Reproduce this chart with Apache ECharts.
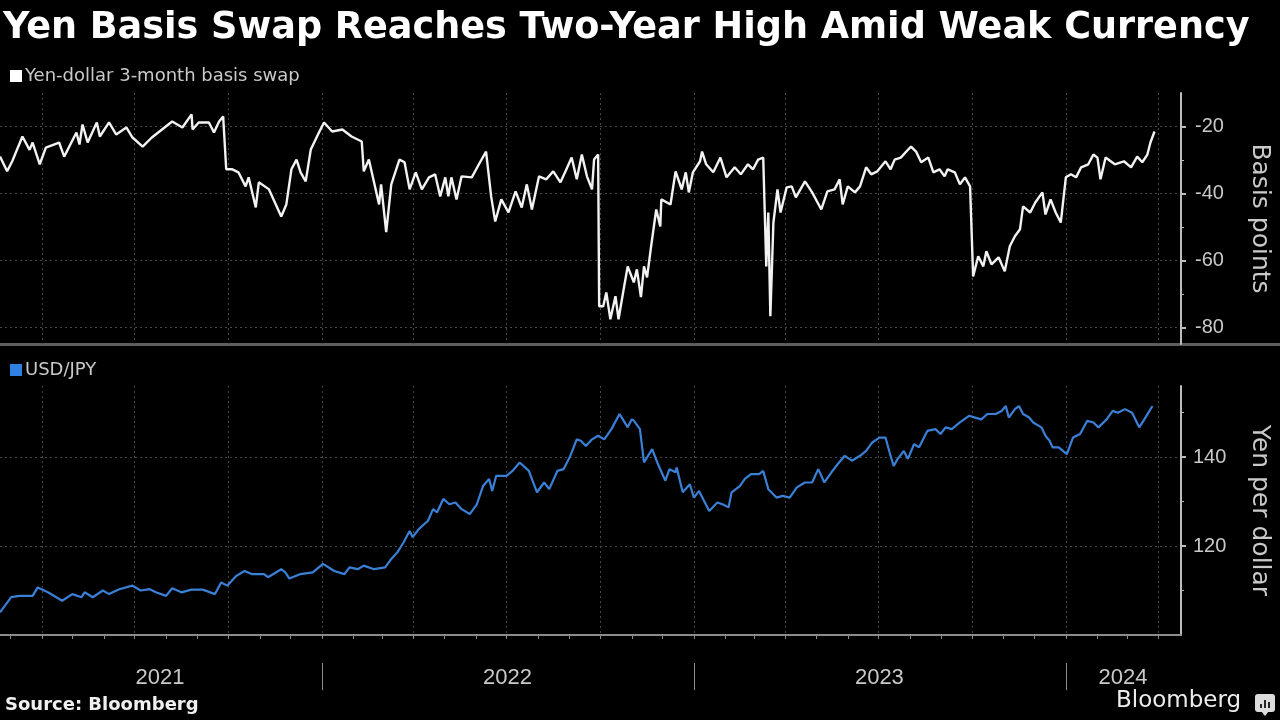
<!DOCTYPE html>
<html>
<head>
<meta charset="utf-8">
<title>Yen Basis Swap Reaches Two-Year High Amid Weak Currency</title>
<script src="https://cdn.jsdelivr.net/npm/echarts@6/dist/echarts.min.js"></script>
<style>
  html, body { margin: 0; padding: 0; background: #000; }
  #chart { width: 1280px; height: 720px; }
</style>
</head>
<body>
<div id="chart"></div>
<script>
// Yen-dollar 3-month basis swap, basis points
const swapDates = [
  '2021-02-19','2021-02-26','2021-03-03','2021-03-13','2021-03-20','2021-03-23','2021-03-30','2021-04-05',
  '2021-04-18','2021-04-23','2021-05-05','2021-05-08','2021-05-11','2021-05-16','2021-05-25','2021-05-28',
  '2021-06-06','2021-06-13','2021-06-23','2021-06-29','2021-07-09','2021-07-18','2021-08-07','2021-08-17',
  '2021-08-26','2021-08-27','2021-09-02','2021-09-12','2021-09-17','2021-09-22','2021-09-26','2021-09-29',
  '2021-10-05','2021-10-11','2021-10-18','2021-10-21','2021-10-28','2021-10-31','2021-11-10','2021-11-22',
  '2021-11-27','2021-12-02','2021-12-07','2021-12-11','2021-12-16','2021-12-21','2021-12-29','2022-01-03',
  '2022-01-11','2022-01-21','2022-01-30','2022-02-09','2022-02-11','2022-02-16','2022-02-26','2022-02-28',
  '2022-03-05','2022-03-10','2022-03-18','2022-03-23','2022-03-28','2022-04-03','2022-04-09','2022-04-16',
  '2022-04-22','2022-04-27','2022-05-02','2022-05-05','2022-05-08','2022-05-13','2022-05-18','2022-05-28',
  '2022-06-04','2022-06-11','2022-06-16','2022-06-20','2022-06-26','2022-07-03','2022-07-10','2022-07-16',
  '2022-07-21','2022-07-26','2022-08-02','2022-08-09','2022-08-16','2022-08-23','2022-08-28','2022-09-03',
  '2022-09-08','2022-09-13','2022-09-18','2022-09-23','2022-09-25','2022-09-29','2022-09-30','2022-10-04',
  '2022-10-07','2022-10-11','2022-10-16','2022-10-19','2022-10-24','2022-10-28','2022-11-03','2022-11-06',
  '2022-11-10','2022-11-13','2022-11-16','2022-11-20','2022-11-25','2022-11-29','2022-11-30','2022-12-09',
  '2022-12-14','2022-12-20','2022-12-24','2022-12-27','2022-12-31','2023-01-07','2023-01-09','2023-01-13',
  '2023-01-20','2023-01-27','2023-02-02','2023-02-10','2023-02-16','2023-02-23','2023-02-28','2023-03-05',
  '2023-03-10','2023-03-13','2023-03-15','2023-03-17','2023-03-20','2023-03-24','2023-03-27','2023-04-02',
  '2023-04-07','2023-04-11','2023-04-20','2023-04-27','2023-05-06','2023-05-12','2023-05-19','2023-05-24',
  '2023-05-27','2023-06-01','2023-06-08','2023-06-13','2023-06-19','2023-06-24','2023-06-30','2023-07-08',
  '2023-07-13','2023-07-17','2023-07-23','2023-08-02','2023-08-07','2023-08-12','2023-08-19','2023-08-24',
  '2023-08-30','2023-09-04','2023-09-07','2023-09-14','2023-09-19','2023-09-24','2023-09-29','2023-10-02',
  '2023-10-07','2023-10-12','2023-10-15','2023-10-20','2023-10-27','2023-11-02','2023-11-07','2023-11-12',
  '2023-11-17','2023-11-20','2023-11-27','2023-12-02','2023-12-09','2023-12-12','2023-12-17','2023-12-22',
  '2023-12-27','2024-01-01','2024-01-06','2024-01-11','2024-01-16','2024-01-23','2024-01-28','2024-02-01',
  '2024-02-04','2024-02-09','2024-02-18','2024-02-27','2024-03-05','2024-03-11','2024-03-16','2024-03-21',
  '2024-03-24','2024-03-28'
];
const swapValues = [
  -29, -33.4, -30.4, -23, -27, -24.8, -31.3, -26.3,
  -24.8, -29, -21.8, -25.4, -19.4, -24.8, -18.8, -23,
  -18.8, -22.4, -20.3, -23.3, -26, -23.3, -18.5, -20.3,
  -16.4, -20.9, -18.8, -18.8, -21.8, -18.5, -17, -32.8,
  -32.8, -33.7, -37.9, -35.2, -44.2, -36.7, -38.8, -46.9,
  -43.3, -32.8, -29.9, -33.7, -36.4, -26.9, -21.8, -18.8,
  -21.5, -20.9, -23, -24.5, -33.4, -29.9, -43.3, -37.3,
  -51.6, -37.3, -29.9, -30.7, -38.8, -33.7, -38.8, -35.2,
  -34.3, -40.9, -35.2, -40.9, -35.2, -41.8, -34.9, -35.2,
  -31.3, -27.5, -40.9, -48.4, -41.8, -45.7, -39.4, -44.2,
  -37.3, -44.8, -34.9, -35.8, -33.4, -36.7, -33.4, -29.3,
  -35.8, -28.4, -34.9, -38.8, -29.9, -28.4, -73.7, -73.7,
  -69.6, -77.6, -70.7, -77.6, -68.7, -61.8, -66.6, -62.7,
  -71, -61.8, -65.1, -55.8, -44.8, -49.9, -41.8, -43.3,
  -33.4, -38.8, -33.7, -39.7, -33.7, -30.4, -27.5, -31.3,
  -33.7, -29.3, -35.2, -32.2, -34.3, -31.3, -32.8, -29.9,
  -29.3, -61.8, -45.7, -76.7, -48.7, -38.8, -45.7, -38.2,
  -37.9, -41.2, -36.4, -39.7, -44.8, -39.4, -38.8, -35.8,
  -43.3, -37.9, -39.7, -37.9, -32.2, -34.3, -33.4, -30.4,
  -32.8, -29.9, -29.3, -26, -27.5, -30.7, -29.3, -33.7,
  -32.8, -34.9, -32.8, -33.7, -37.3, -35.2, -37.9, -64.8,
  -58.8, -61.8, -57.3, -61.2, -59.1, -63.3, -55.8, -52.8,
  -50.7, -43.9, -45.7, -42.7, -39.7, -46.3, -41.8, -45.7,
  -48.7, -35.2, -34.3, -35.2, -32.2, -31.3, -28.4, -29.3,
  -35.8, -29.3, -31.3, -30.4, -32.2, -29, -30.7, -28.4,
  -24.8, -21.5
];

// USD/JPY, yen per dollar
const fxDates = [
  '2021-02-19','2021-03-02','2021-03-10','2021-03-23','2021-03-28','2021-04-07','2021-04-21','2021-05-01',
  '2021-05-10','2021-05-13','2021-05-21','2021-05-31','2021-06-06','2021-06-16','2021-06-29','2021-07-07',
  '2021-07-16','2021-07-22','2021-08-01','2021-08-07','2021-08-16','2021-08-26','2021-09-06','2021-09-18',
  '2021-09-24','2021-09-30','2021-10-09','2021-10-17','2021-10-24','2021-11-05','2021-11-09','2021-11-22',
  '2021-11-26','2021-11-30','2021-12-11','2021-12-23','2022-01-02','2022-01-13','2022-01-23','2022-01-28',
  '2022-02-05','2022-02-11','2022-02-21','2022-03-04','2022-03-10','2022-03-16','2022-03-22','2022-03-28',
  '2022-03-31','2022-04-06','2022-04-15','2022-04-20','2022-04-24','2022-04-30','2022-05-06','2022-05-12',
  '2022-05-18','2022-05-26','2022-06-02','2022-06-08','2022-06-14','2022-06-17','2022-06-21','2022-07-01',
  '2022-07-07','2022-07-14','2022-07-23','2022-07-31','2022-08-07','2022-08-12','2022-08-20','2022-08-26',
  '2022-09-01','2022-09-08','2022-09-12','2022-09-17','2022-09-23','2022-09-29','2022-10-05','2022-10-12',
  '2022-10-20','2022-10-24','2022-10-28','2022-11-01','2022-11-03','2022-11-09','2022-11-13','2022-11-21',
  '2022-11-26','2022-12-04','2022-12-08','2022-12-14','2022-12-15','2022-12-21','2022-12-28','2023-01-01',
  '2023-01-06','2023-01-10','2023-01-16','2023-01-24','2023-01-29','2023-02-04','2023-02-07','2023-02-15',
  '2023-02-20','2023-02-26','2023-03-06','2023-03-10','2023-03-15','2023-03-23','2023-03-29','2023-04-05',
  '2023-04-12','2023-04-20','2023-04-27','2023-05-03','2023-05-09','2023-05-16','2023-05-22','2023-05-29',
  '2023-06-05','2023-06-13','2023-06-19','2023-06-25','2023-07-02','2023-07-08','2023-07-12','2023-07-16',
  '2023-07-20','2023-07-26','2023-07-30','2023-08-05','2023-08-10','2023-08-18','2023-08-26','2023-08-31',
  '2023-09-05','2023-09-11','2023-09-19','2023-09-28','2023-10-04','2023-10-10','2023-10-16','2023-10-24',
  '2023-10-30','2023-11-03','2023-11-06','2023-11-12','2023-11-16','2023-11-20','2023-11-26','2023-11-30',
  '2023-12-08','2023-12-12','2023-12-16','2023-12-19','2023-12-25','2024-01-02','2024-01-08','2024-01-15',
  '2024-01-22','2024-01-28','2024-02-02','2024-02-10','2024-02-16','2024-02-21','2024-02-28','2024-03-06',
  '2024-03-13','2024-03-18','2024-03-26'
];
const fxValues = [
  105.1, 108.5, 108.8, 108.8, 110.7, 109.6, 107.7, 109.2,
  108.5, 109.6, 108.5, 110, 109.2, 110.3, 111.1, 110,
  110.3, 109.6, 108.8, 110.5, 109.6, 110.2, 110.2, 109.2,
  111.8, 111.1, 113.3, 114.4, 113.7, 113.7, 113, 114.8,
  114.1, 112.7, 113.7, 114.1, 116, 114.4, 113.7, 115.2,
  114.8, 115.6, 114.8, 115.2, 117.1, 118.6, 120.8, 123.4,
  122, 123.8, 125.7, 128.3, 127.6, 130.6, 129.4, 129.8,
  128.3, 127.2, 129.4, 133.5, 135.1, 132.4, 135.8, 135.8,
  136.9, 138.8, 136.9, 132.1, 134.3, 132.8, 136.9, 137.3,
  139.9, 144, 143.7, 142.5, 144, 144.8, 144, 146.3,
  149.7, 148.2, 146.7, 148.5, 148.2, 146.3, 138.8, 141.8,
  138.8, 134.7, 137.3, 136.6, 137.7, 132.1, 133.9, 130.9,
  132.4, 130.6, 127.9, 129.8, 129.4, 128.7, 132.1, 133.5,
  135.1, 136.2, 136.2, 136.9, 132.8, 130.9, 131.3, 130.9,
  133.2, 134.3, 134.3, 137.3, 134.3, 136.6, 138.4, 140.3,
  139.2, 140.3, 141.4, 143.3, 144.4, 144.4, 141.1, 138,
  139.6, 141.4, 139.6, 142.9, 142.2, 145.9, 146.3, 145.2,
  146.7, 146.3, 147.8, 149.3, 148.9, 148.5, 149.7, 149.7,
  150.4, 151.5, 148.9, 150.8, 151.5, 149.7, 148.9, 147.8,
  146.7, 144.8, 143.7, 142.2, 142.2, 140.7, 144.4, 145.2,
  148.2, 147.8, 146.7, 148.5, 150.4, 150, 150.8, 150,
  146.7, 148.5, 151.5
];

const axisStart = '2021-02-19';
const axisEnd = '2024-04-23';
const yearLabels = ['2021', '2022', '2023', '2024'];
const yearLabelDates = ['2021-07-26', '2022-07-02', '2023-07-02', '2024-02-26'];
const swapTicks = [-80, -60, -40, -20];
const swapMinorTicks = [-70, -50, -30];
const fxTicks = [120, 140];
const fxMinorTicks = [110, 130, 150];

// one category per calendar day so the axis is linear in time
function buildDays(start, end) {
  const out = [];
  let t = Date.parse(start + 'T00:00:00Z');
  const stop = Date.parse(end + 'T00:00:00Z');
  while (t <= stop) {
    out.push(new Date(t).toISOString().slice(0, 10));
    t += 86400000;
  }
  return out;
}
const days = buildDays(axisStart, axisEnd);
const dayIndex = {};
days.forEach((d, i) => { dayIndex[d] = i; });
const toPoints = (dates, values) => dates.map((d, i) => [dayIndex[d], values[i]]);

const isMonthStart = (i, v) => v.slice(8) === '01';
const isQuarterStart = (i, v) => /-(01|04|07|10)-01$/.test(v);
const isYearStart = (i, v) => v.slice(5) === '01-01';

const FONT = 'DejaVu Sans';
const NUM_FONT = 'Liberation Sans';
const gridLine = { color: '#474747', width: 1, type: [2, 3] };
const axisGrey = '#bdbdbd';
const labelGrey = '#c9c9c9';

const chart = echarts.init(document.getElementById('chart'));

chart.setOption({
  backgroundColor: '#000',
  animation: false,
  textStyle: { fontFamily: FONT },
  title: [
    {
      text: 'Yen Basis Swap Reaches Two-Year High Amid Weak Currency',
      left: 3, top: 10, padding: 0,
      textStyle: { color: '#fff', fontSize: 36.6, fontWeight: 'bold', fontFamily: FONT }
    },
    {
      text: 'Source: Bloomberg',
      left: 5, top: 696, padding: 0,
      textStyle: { color: '#f0f0f0', fontSize: 18, fontWeight: 'bold', fontFamily: FONT }
    },
    {
      text: 'Bloomberg',
      left: 1116, top: 690, padding: 0,
      textStyle: { color: '#ececec', fontSize: 23, fontWeight: 'normal', fontFamily: FONT }
    }
  ],
  legend: [
    {
      data: ['Yen-dollar 3-month basis swap'],
      left: 10, top: 67, padding: 0,
      icon: 'rect', itemWidth: 12, itemHeight: 12,
      selectedMode: false,
      textStyle: { color: labelGrey, fontSize: 18, padding: [0, 0, 0, -2] }
    },
    {
      data: ['USD/JPY'],
      left: 10, top: 361, padding: 0,
      icon: 'rect', itemWidth: 12, itemHeight: 12,
      selectedMode: false,
      textStyle: { color: labelGrey, fontSize: 18, padding: [0, 0, 0, -2] }
    }
  ],
  grid: [
    { left: 0, right: 97, top: 93, height: 251 },
    { left: 0, right: 97, top: 386, height: 249 }
  ],
  xAxis: [
    {
      gridIndex: 0, type: 'category', data: days, boundaryGap: false,
      axisLine: { show: false }, axisTick: { show: false }, axisLabel: { show: false },
      splitLine: { show: true, interval: isQuarterStart, lineStyle: gridLine }
    },
    {
      gridIndex: 1, type: 'category', data: days, boundaryGap: false,
      axisLine: { show: true, lineStyle: { color: '#8c8c8c', width: 2 } },
      axisTick: { show: true, interval: isMonthStart, length: 4, lineStyle: { color: '#8c8c8c', width: 1 } },
      axisLabel: { show: false },
      splitLine: { show: true, interval: isQuarterStart, lineStyle: gridLine }
    },
    {
      // year separators and year labels below the monthly ticks
      gridIndex: 1, type: 'category', data: days, boundaryGap: false,
      position: 'bottom', offset: 28,
      axisLine: { show: false },
      axisTick: { show: true, interval: isYearStart, length: 27, lineStyle: { color: '#8c8c8c', width: 1 } },
      axisLabel: {
        show: true, margin: 4, color: labelGrey, fontSize: 22, fontFamily: NUM_FONT,
        interval: (i, v) => yearLabelDates.includes(v),
        formatter: v => yearLabels[yearLabelDates.indexOf(v)]
      },
      splitLine: { show: false }
    }
  ],
  yAxis: [
    {
      gridIndex: 0, type: 'value', position: 'right', min: -85, max: -10,
      axisLine: { show: true, lineStyle: { color: axisGrey, width: 2 } },
      axisTick: { show: true, customValues: swapTicks, length: 5, lineStyle: { color: axisGrey, width: 2 } },
      axisLabel: { customValues: swapTicks, color: labelGrey, fontSize: 20, fontFamily: NUM_FONT, margin: 14 },
      splitLine: { show: true, lineStyle: gridLine },
      name: 'Basis points', nameLocation: 'middle', nameRotate: -90, nameGap: 66,
      nameTextStyle: { color: labelGrey, fontSize: 25 }
    },
    {
      gridIndex: 0, type: 'value', position: 'right', min: -85, max: -10,
      axisLine: { show: false },
      axisTick: { show: true, customValues: swapMinorTicks, length: 3, lineStyle: { color: axisGrey, width: 1 } },
      axisLabel: { show: false }, splitLine: { show: false }
    },
    {
      gridIndex: 1, type: 'value', position: 'right', min: 100, max: 156,
      axisLine: { show: true, lineStyle: { color: axisGrey, width: 2 } },
      axisTick: { show: true, customValues: fxTicks, length: 5, lineStyle: { color: axisGrey, width: 2 } },
      axisLabel: { customValues: fxTicks, color: labelGrey, fontSize: 20, fontFamily: NUM_FONT, margin: 12 },
      splitLine: { show: true, lineStyle: gridLine },
      name: 'Yen per dollar', nameLocation: 'middle', nameRotate: -90, nameGap: 66,
      nameTextStyle: { color: labelGrey, fontSize: 25 }
    },
    {
      gridIndex: 1, type: 'value', position: 'right', min: 100, max: 156,
      axisLine: { show: false },
      axisTick: { show: true, customValues: fxMinorTicks, length: 3, lineStyle: { color: axisGrey, width: 1 } },
      axisLabel: { show: false }, splitLine: { show: false }
    }
  ],
  series: [
    {
      name: 'Yen-dollar 3-month basis swap', type: 'line',
      xAxisIndex: 0, yAxisIndex: 0,
      data: toPoints(swapDates, swapValues),
      showSymbol: false, symbol: 'none',
      itemStyle: { color: '#ffffff' },
      lineStyle: { color: '#f2f2f2', width: 2.4 }
    },
    {
      name: 'USD/JPY', type: 'line',
      xAxisIndex: 1, yAxisIndex: 2,
      data: toPoints(fxDates, fxValues),
      showSymbol: false, symbol: 'none',
      itemStyle: { color: '#2f80e0' },
      lineStyle: { color: '#3a80d6', width: 2.2 }
    }
  ],
  graphic: [
    // panel divider
    { type: 'rect', left: 0, top: 343, shape: { width: 1280, height: 3 }, style: { fill: '#5e5e5e' }, silent: true },
    // small Bloomberg mark
    { type: 'rect', left: 1255, top: 694, shape: { width: 20, height: 18, r: 3 }, style: { fill: '#dcdcdc' }, silent: true },
    { type: 'polygon', shape: { points: [[1261, 711], [1269, 711], [1265, 716]] }, style: { fill: '#dcdcdc' }, silent: true },
    { type: 'rect', left: 1260, top: 704, shape: { width: 2, height: 4 }, style: { fill: '#222' }, silent: true },
    { type: 'rect', left: 1264, top: 700, shape: { width: 2, height: 8 }, style: { fill: '#222' }, silent: true },
    { type: 'rect', left: 1268, top: 702, shape: { width: 2, height: 6 }, style: { fill: '#222' }, silent: true }
  ]
});
</script>
</body>
</html>
